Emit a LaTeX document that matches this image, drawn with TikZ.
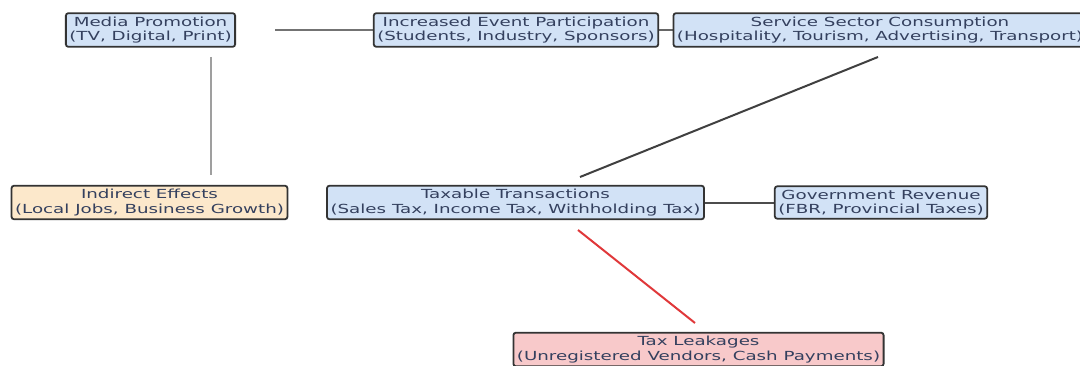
\documentclass[tikz,border=0pt]{standalone}
\usepackage{fontspec}
\setmainfont{DejaVu Sans}[FakeStretch=1.46]
\definecolor{txt}{HTML}{34405E}
\definecolor{bluefill}{HTML}{D2E2F6}
\definecolor{beigefill}{HTML}{FCE8CB}
\definecolor{pinkfill}{HTML}{F8C9CA}
\definecolor{boxline}{HTML}{333333}
\definecolor{redline}{HTML}{E0383A}
\tikzset{
  box/.style={draw=boxline, line width=1.8pt, rounded corners=2.5pt, align=center,
    text=txt, inner xsep=3.5pt, inner ysep=3.5pt,
    font=\fontsize{12.5}{14.5}\selectfont},
  bluebox/.style={box, fill=bluefill},
  beigebox/.style={box, fill=beigefill},
  pinkbox/.style={box, fill=pinkfill},
  edge/.style={line width=2pt, draw=#1},
}
\begin{document}
\begin{tikzpicture}[x=1pt,y=-1pt]
\useasboundingbox (0,0) rectangle (1080,366);
% edge end points
\coordinate (mp) at (275,30);
\coordinate (mdown) at (211,57);
\coordinate (ieup) at (211,175);
\coordinate (sdown) at (878,57);
\coordinate (tup) at (580,177);
\coordinate (tdown) at (578,230);
\coordinate (lup) at (695,323);
% connectors (drawn first, boxes cover them)
\draw[edge=gray!90!black] (mp) -- (516,30);
\draw[edge=gray!80!black] (516,30) -- (879,30);
\draw[edge=gray!75] (mdown) -- (ieup);
\draw[edge=black!75] (sdown) -- (tup);
\draw[edge=black!70] (515.5,203.5) -- (881,203.5);
\draw[edge=redline] (tdown) -- (lup);
% nodes
\node[bluebox] (media) at (150.5,30) {Media Promotion\\(TV, Digital, Print)};
\node[bluebox] (event) at (516,30) {Increased Event Participation\\(Students, Industry, Sponsors)};
\node[bluebox] (service) at (880,30) {Service Sector Consumption\\(Hospitality, Tourism, Advertising, Transport)};
\node[beigebox] (indirect) at (149.5,202.5) {Indirect Effects\\(Local Jobs, Business Growth)};
\node[bluebox] (taxable) at (515.5,202.5) {Taxable Transactions\\(Sales Tax, Income Tax, Withholding Tax)};
\node[bluebox] (gov) at (881,202.5) {Government Revenue\\(FBR, Provincial Taxes)};
\node[pinkbox] (leak) at (698.5,349.5) {Tax Leakages\\(Unregistered Vendors, Cash Payments)};
\end{tikzpicture}
\end{document}
